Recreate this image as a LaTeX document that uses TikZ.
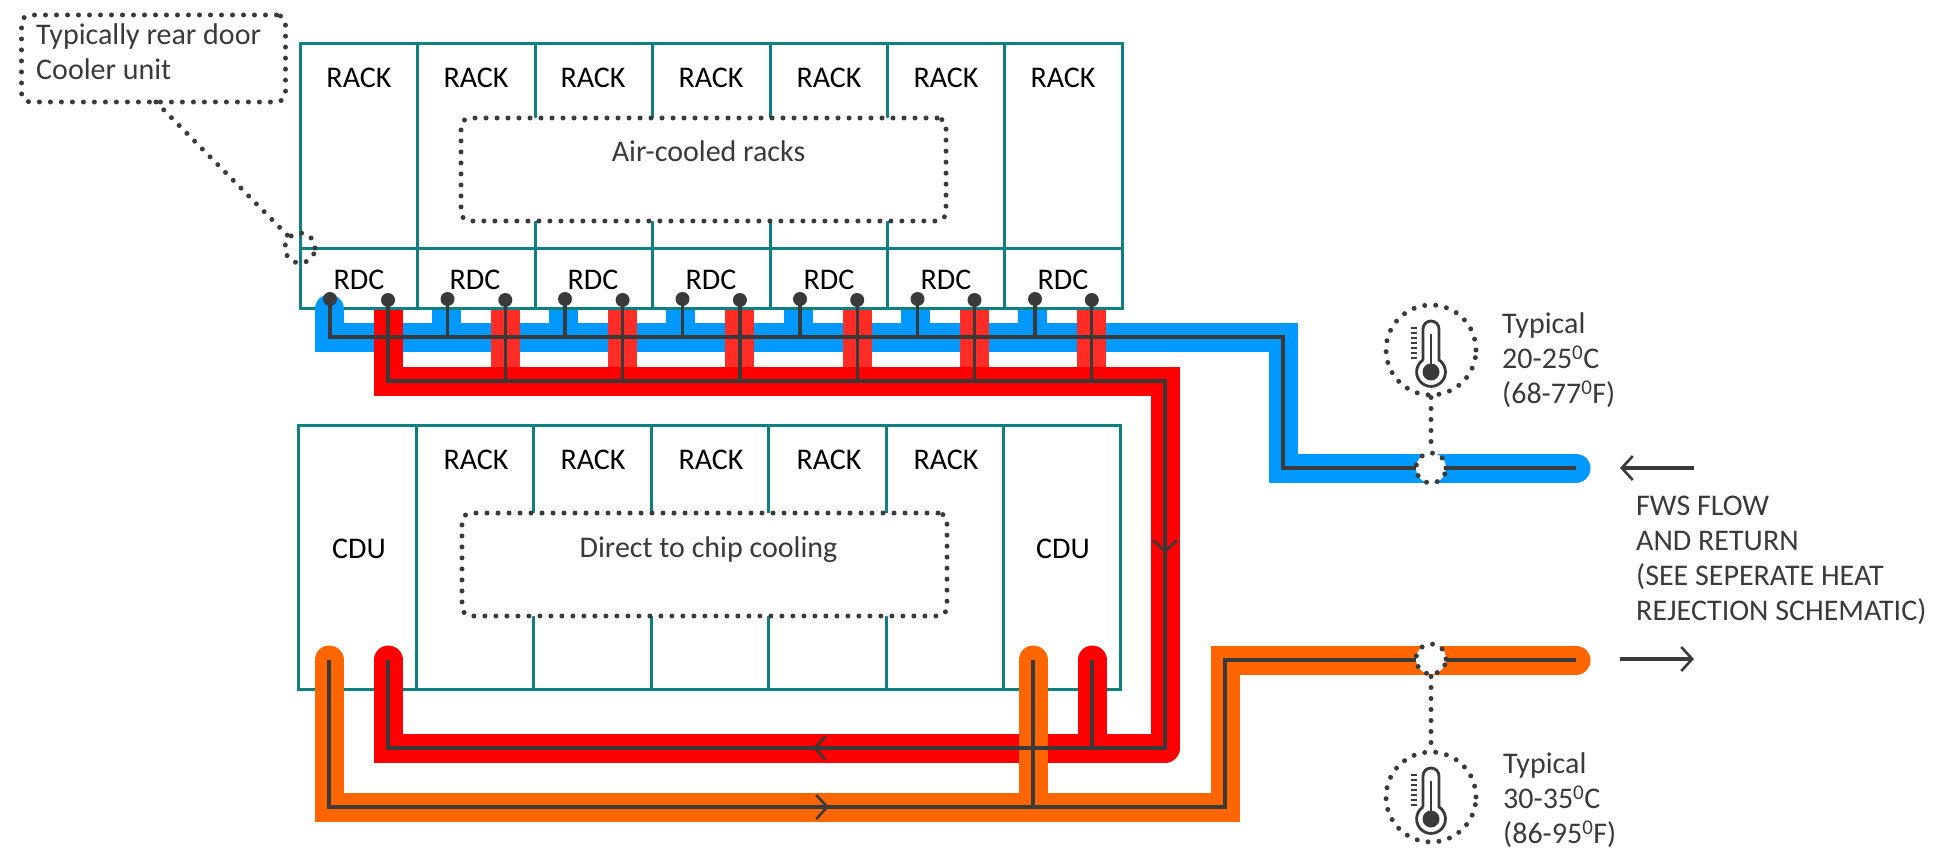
\documentclass[tikz,border=0pt]{standalone}
\usepackage{fontspec}
\setmainfont{Carlito}
\usetikzlibrary{arrows.meta}
\definecolor{teal1}{HTML}{0E8080}
\definecolor{pblue}{HTML}{0099FF}
\definecolor{pred}{HTML}{FF0000}
\definecolor{pstub}{HTML}{FF2D26}
\definecolor{porange}{HTML}{FF6600}
\definecolor{ink}{HTML}{3A3A3A}
\tikzset{
  grid/.style={draw=teal1,line width=3pt},
  pipe/.style={line width=29pt,line join=miter},
  wire/.style={draw=ink,line width=3.2pt},
  dots/.style={draw=ink,line width=5pt,line cap=round,dash pattern=on 0pt off 11pt},
  lab/.style={text=black,font=\fontsize{30}{36}\selectfont,inner sep=0pt},
  note/.style={text=ink,font=\fontsize{30}{35}\selectfont,inner sep=0pt,align=left,anchor=west},
  dbox/.style={dots,fill=white,rounded corners=9pt},
  chev/.style={wire,-{Straight Barb[length=11pt,width=24pt,line width=2.6pt]}},
  pin/.style={circle,fill=ink,inner sep=0pt,minimum size=14pt},
  thin/.style={draw=ink,line width=2.8pt}
}
\begin{document}
\begin{tikzpicture}[x=1pt,y=-1pt]
\useasboundingbox (0,0) rectangle (1954,848);
% top rack grid
\draw[grid] (300,44) rectangle (1122,308);
\draw[grid] (300,248) -- (1122,248);
\foreach \x in {417,535,652,770,887,1004} \draw[grid] (\x,44) -- (\x,308);
% bottom rack grid
\draw[grid] (298,425) rectangle (1120,689);
\foreach \x in {416,533,651,768,886,1003} \draw[grid] (\x,425) -- (\x,689);
% dashed central boxes
\node[dbox,minimum width=485pt,minimum height=103pt,inner sep=0pt] (air) at (703.5,169.5) {};
\node[lab,text=ink] at (708.5,151) {Air-cooled racks};
\node[dbox,minimum width=485pt,minimum height=103pt,inner sep=0pt] (dtc) at (704.5,564.5) {};
\node[lab,text=ink] at (708.5,550) {Direct to chip cooling};
% rack labels
\foreach \x in {359,476,593,711,829,946,1063} \node[lab] at (\x,78) {RACK};
\foreach \x in {359,475,593,711,829,946,1063} \node[lab] at (\x,280) {RDC};
\foreach \x in {476,593,711,829,946} \node[lab] at (\x,460) {RACK};
\node[lab] (cdua) at (359,549) {CDU};
\node[lab] (cdub) at (1063,549) {CDU};
% named pipe points
\coordinate (btop) at (330,299);
\coordinate (bl) at (330,337);
\coordinate (bc) at (1283,337);
\coordinate (bd) at (1283,468);
\coordinate (bend) at (1576,468);
\coordinate (rt) at (388,308);
\coordinate (rl) at (388,381);
\coordinate (rc) at (1165,381);
\coordinate (rd) at (1165,748);
\coordinate (re) at (388,748);
\coordinate (rend) at (388,660);
\coordinate (rrise) at (1092,660);
\coordinate (rriseb) at (1092,748);
\coordinate (ost) at (329,660);
\coordinate (ol) at (329,807);
\coordinate (or) at (1225,807);
\coordinate (ou) at (1225,660);
\coordinate (oend) at (1576,660);
\coordinate (orise) at (1033,660);
\coordinate (oriseb) at (1033,807);
% blue
\foreach \i in {1,...,6} \draw[pipe,draw=pblue] ({329+117.3*\i},309.5) -- ({329+117.3*\i},337);
\draw[pipe,draw=pblue] (329,337) -- (bc) -- (bd) -- (1430,468);
\draw[pipe,draw=pblue,line cap=round] (1430,468) -- (bend);
\draw[pipe,draw=pblue,line cap=round] (329,330) -- (329,309);
\draw[pipe,draw=pblue] (329,351.5) -- (329,320);
% red
\foreach \i in {1,...,6} \draw[pipe,draw=pstub] ({388+117.3*\i},309.5) -- ({388+117.3*\i},370);
\draw[pipe,draw=pred] (388,309.5) -- (rl) -- (rc) -- (1165,600);
\draw[pipe,draw=pred,line join=round] (1165,600) -- (rd) -- (1000,748);
\draw[pipe,draw=pred] (1000,748) -- (re) -- (388,700);
\draw[pipe,draw=pred,line cap=round] (388,700) -- (rend);
\draw[pipe,draw=pred,line cap=round] (1092,740) -- (rrise);
% orange
\draw[pipe,draw=porange,line cap=round] (329,700) -- (ost);
\draw[pipe,draw=porange] (329,700) -- (ol) -- (or) -- (ou) -- (1430,660);
\draw[pipe,draw=porange,line cap=round] (1430,660) -- (oend);
\draw[pipe,draw=porange,line cap=round] (1033,800) -- (orise);
% wires
\draw[wire] (btop) -- (bl) -- (bc) -- (bd) -- (bend);
\foreach \i in {1,...,6} {
  \draw[wire] ({330+117.5*\i},299) -- ({330+117.5*\i},337);
  \node[pin] at ({330+117.5*\i},299) {};
}
\node[pin] at (btop) {};
\draw[wire] (388,300) -- (rl) -- (rc) -- (rd) -- (re) -- (rend);
\foreach \i in {0,...,6} {
  \draw[wire] ({388+117.3*\i},300) -- ({388+117.3*\i},381);
  \node[pin] at ({388+117.3*\i},300) {};
}
\draw[wire] (rrise) -- (rriseb);
\draw[wire] (ost) -- (ol) -- (or) -- (ou) -- (oend);
\draw[wire] (orise) -- (oriseb);
\draw[chev] (1165,530) -- (1165,553);
\draw[chev] (860,748) -- (813,748);
\draw[chev] (780,807) -- (829,807);
% callout
\node[dots,rounded corners=9pt,minimum width=264pt,minimum height=87pt,inner sep=0pt] (call) at (153.5,58.5) {};
\node[note] at (36,52) {Typically rear door\\Cooler unit};
\node[dots,circle,minimum size=30pt,inner sep=0pt] (tap) at (300,248) {};
\draw[dots] (156,102) -- (tap);
% sensor points
\node[dots,circle,fill=white,minimum size=30pt,inner sep=0pt] (sb) at (1431,468) {};
\node[dots,circle,fill=white,minimum size=30pt,inner sep=0pt] (so) at (1431,659) {};
\node[dots,circle,minimum size=90pt,inner sep=0pt] (tb) at (1431,350) {};
\node[dots,circle,minimum size=90pt,inner sep=0pt] (to) at (1431,797) {};
\draw[dots] (tb) -- (sb);
\draw[dots] (so) -- (to);
% thermometers
\foreach \n in {tb,to} {
  \begin{scope}[shift={(\n.center)}]
    \draw[thin] (-8,10) -- (-8,-21) arc[start angle=180,end angle=360,radius=8] -- (8,10)
       arc[start angle=-56.3,end angle=236.3,radius=14.42];
    \draw[thin] (0,-16) -- (0,20);
    \fill[ink] (0,22) circle (8.5);
    \foreach \t in {-22,-17,-12,-7,-2,3,8} \draw[ink,line width=2pt] (-20,\t) -- (-14,\t);
  \end{scope}
}
% temp labels
\node[note] at (1502,360) {Typical\\20-25\textsuperscript{0}C\\(68-77\textsuperscript{0}F)};
\node[note] at (1503,800) {Typical\\30-35\textsuperscript{0}C\\(86-95\textsuperscript{0}F)};
\node[note] at (1636,560) {FWS FLOW\\AND RETURN\\(SEE SEPERATE HEAT\\REJECTION SCHEMATIC)};
% flow arrows
\coordinate (fa) at (1694,468); \coordinate (fb) at (1620,468);
\coordinate (fc) at (1620,659); \coordinate (fd) at (1694,659);
\draw[chev] (fa) -- (fb);
\draw[chev] (fc) -- (fd);
\end{tikzpicture}
\end{document}
